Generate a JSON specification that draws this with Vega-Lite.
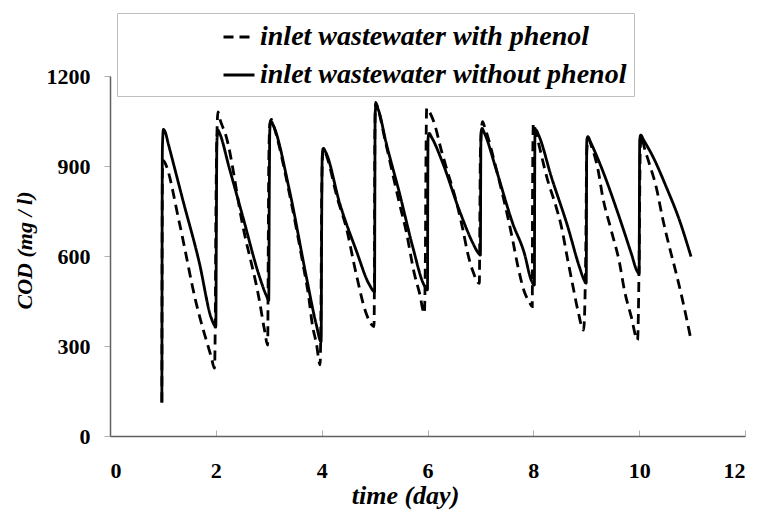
{
  "$schema": "https://vega.github.io/schema/vega-lite/v6.json",
  "width": 635,
  "height": 360,
  "autosize": {"type": "none"},
  "padding": {"left": 110, "top": 76, "right": 12, "bottom": 76},
  "background": "white",
  "config": {"view": {"stroke": null}, "font": "Times New Roman"},
  "data": {"values": [
    {"s":"B","t":0.98,"cod":112},{"s":"B","t":0.985,"cod":700},{"s":"B","t":0.99,"cod":960},{"s":"B","t":1.01,"cod":1022},{"s":"B","t":1.04,"cod":1015},{"s":"B","t":1.1,"cod":975},{"s":"B","t":1.376,"cod":787},{"s":"B","t":1.69,"cod":576},{"s":"B","t":1.91,"cod":395},{"s":"B","t":1.97,"cod":370},{"s":"B","t":2.0,"cod":364},
    {"s":"B","t":2.01,"cod":700},{"s":"B","t":2.02,"cod":980},{"s":"B","t":2.04,"cod":1020},{"s":"B","t":2.07,"cod":1010},{"s":"B","t":2.25,"cod":896},{"s":"B","t":2.51,"cod":731},{"s":"B","t":2.825,"cod":531},{"s":"B","t":2.95,"cod":470},{"s":"B","t":3.0,"cod":453},
    {"s":"B","t":3.01,"cod":800},{"s":"B","t":3.02,"cod":1020},{"s":"B","t":3.04,"cod":1050},{"s":"B","t":3.08,"cod":1038},{"s":"B","t":3.39,"cod":820},{"s":"B","t":3.71,"cod":531},{"s":"B","t":3.9,"cod":370},{"s":"B","t":3.99,"cod":314},
    {"s":"B","t":4.0,"cod":700},{"s":"B","t":4.01,"cod":930},{"s":"B","t":4.03,"cod":959},{"s":"B","t":4.08,"cod":945},{"s":"B","t":4.34,"cod":776},{"s":"B","t":4.65,"cod":620},{"s":"B","t":4.9,"cod":505},{"s":"B","t":5.0,"cod":481},
    {"s":"B","t":5.005,"cod":800},{"s":"B","t":5.01,"cod":1070},{"s":"B","t":5.03,"cod":1103},{"s":"B","t":5.07,"cod":1088},{"s":"B","t":5.22,"cod":976},{"s":"B","t":5.47,"cod":810},{"s":"B","t":5.72,"cod":631},{"s":"B","t":5.93,"cod":505},{"s":"B","t":6.0,"cod":487},
    {"s":"B","t":6.005,"cod":800},{"s":"B","t":6.01,"cod":990},{"s":"B","t":6.03,"cod":1009},{"s":"B","t":6.08,"cod":995},{"s":"B","t":6.29,"cod":909},{"s":"B","t":6.6,"cod":753},{"s":"B","t":6.86,"cod":642},{"s":"B","t":6.96,"cod":610},{"s":"B","t":7.0,"cod":603},
    {"s":"B","t":7.005,"cod":850},{"s":"B","t":7.01,"cod":1005},{"s":"B","t":7.03,"cod":1025},{"s":"B","t":7.08,"cod":1008},{"s":"B","t":7.3,"cod":887},{"s":"B","t":7.61,"cod":709},{"s":"B","t":7.83,"cod":609},{"s":"B","t":7.96,"cod":520},{"s":"B","t":8.02,"cod":503},
    {"s":"B","t":8.025,"cod":800},{"s":"B","t":8.03,"cod":1000},{"s":"B","t":8.05,"cod":1020},{"s":"B","t":8.1,"cod":1003},{"s":"B","t":8.34,"cod":864},{"s":"B","t":8.65,"cod":698},{"s":"B","t":8.87,"cod":564},{"s":"B","t":8.96,"cod":520},{"s":"B","t":9.0,"cod":509},
    {"s":"B","t":9.005,"cod":800},{"s":"B","t":9.01,"cod":985},{"s":"B","t":9.03,"cod":998},{"s":"B","t":9.08,"cod":980},{"s":"B","t":9.28,"cod":898},{"s":"B","t":9.6,"cod":742},{"s":"B","t":9.85,"cod":609},{"s":"B","t":9.96,"cod":550},{"s":"B","t":10.0,"cod":542},
    {"s":"B","t":10.005,"cod":800},{"s":"B","t":10.01,"cod":985},{"s":"B","t":10.03,"cod":1003},{"s":"B","t":10.08,"cod":988},{"s":"B","t":10.26,"cod":931},{"s":"B","t":10.51,"cod":831},{"s":"B","t":10.76,"cod":720},{"s":"B","t":10.98,"cod":598},
    {"s":"A","t":0.98,"cod":112},{"s":"A","t":0.985,"cod":600},{"s":"A","t":0.99,"cod":880},{"s":"A","t":1.01,"cod":918},{"s":"A","t":1.04,"cod":910},{"s":"A","t":1.313,"cod":709},{"s":"A","t":1.63,"cod":442},{"s":"A","t":1.912,"cod":264},{"s":"A","t":1.975,"cod":226},
    {"s":"A","t":1.99,"cod":400},{"s":"A","t":2.0,"cod":700},{"s":"A","t":2.02,"cod":1000},{"s":"A","t":2.04,"cod":1080},{"s":"A","t":2.07,"cod":1060},{"s":"A","t":2.196,"cod":998},{"s":"A","t":2.51,"cod":700},{"s":"A","t":2.825,"cod":450},{"s":"A","t":2.92,"cod":353},{"s":"A","t":2.98,"cod":303},
    {"s":"A","t":2.99,"cod":600},{"s":"A","t":3.0,"cod":900},{"s":"A","t":3.02,"cod":1040},{"s":"A","t":3.05,"cod":1055},{"s":"A","t":3.09,"cod":1035},{"s":"A","t":3.4,"cod":800},{"s":"A","t":3.65,"cod":570},{"s":"A","t":3.75,"cod":470},{"s":"A","t":3.83,"cod":364},{"s":"A","t":3.9,"cod":309},{"s":"A","t":3.97,"cod":237},
    {"s":"A","t":3.99,"cod":500},{"s":"A","t":4.0,"cod":800},{"s":"A","t":4.02,"cod":940},{"s":"A","t":4.04,"cod":955},{"s":"A","t":4.1,"cod":930},{"s":"A","t":4.3,"cod":790},{"s":"A","t":4.46,"cod":698},{"s":"A","t":4.65,"cod":542},{"s":"A","t":4.84,"cod":409},{"s":"A","t":4.95,"cod":370},{"s":"A","t":4.99,"cod":365},
    {"s":"A","t":5.0,"cod":700},{"s":"A","t":5.005,"cod":1000},{"s":"A","t":5.02,"cod":1112},{"s":"A","t":5.05,"cod":1100},{"s":"A","t":5.2,"cod":985},{"s":"A","t":5.47,"cod":775},{"s":"A","t":5.6,"cod":680},{"s":"A","t":5.75,"cod":542},{"s":"A","t":5.85,"cod":476},{"s":"A","t":5.94,"cod":409},
    {"s":"A","t":5.96,"cod":600},{"s":"A","t":5.97,"cod":900},{"s":"A","t":5.985,"cod":1092},{"s":"A","t":6.02,"cod":1085},{"s":"A","t":6.13,"cod":1042},{"s":"A","t":6.26,"cod":953},{"s":"A","t":6.35,"cod":898},{"s":"A","t":6.57,"cod":764},{"s":"A","t":6.67,"cod":687},{"s":"A","t":6.76,"cod":609},{"s":"A","t":6.86,"cod":548},{"s":"A","t":6.98,"cod":509},
    {"s":"A","t":6.99,"cod":750},{"s":"A","t":7.0,"cod":950},{"s":"A","t":7.04,"cod":1048},{"s":"A","t":7.08,"cod":1030},{"s":"A","t":7.3,"cod":890},{"s":"A","t":7.61,"cod":653},{"s":"A","t":7.71,"cod":564},{"s":"A","t":7.83,"cod":481},{"s":"A","t":7.93,"cod":445},{"s":"A","t":7.98,"cod":431},
    {"s":"A","t":7.985,"cod":800},{"s":"A","t":8.0,"cod":1042},{"s":"A","t":8.05,"cod":1010},{"s":"A","t":8.27,"cod":853},{"s":"A","t":8.43,"cod":764},{"s":"A","t":8.53,"cod":698},{"s":"A","t":8.65,"cod":587},{"s":"A","t":8.75,"cod":498},{"s":"A","t":8.84,"cod":420},{"s":"A","t":8.95,"cod":353},
    {"s":"A","t":8.99,"cod":600},{"s":"A","t":9.01,"cod":950},{"s":"A","t":9.04,"cod":990},{"s":"A","t":9.1,"cod":965},{"s":"A","t":9.22,"cod":890},{"s":"A","t":9.31,"cod":798},{"s":"A","t":9.47,"cod":687},{"s":"A","t":9.63,"cod":576},{"s":"A","t":9.72,"cod":487},{"s":"A","t":9.85,"cod":398},{"s":"A","t":9.97,"cod":320},
    {"s":"A","t":10.0,"cod":600},{"s":"A","t":10.02,"cod":950},{"s":"A","t":10.04,"cod":1000},{"s":"A","t":10.1,"cod":960},{"s":"A","t":10.19,"cod":909},{"s":"A","t":10.32,"cod":831},{"s":"A","t":10.45,"cod":720},{"s":"A","t":10.57,"cod":631},{"s":"A","t":10.7,"cod":542},{"s":"A","t":10.82,"cod":453},{"s":"A","t":10.98,"cod":320}
  ]},
  "mark": {"type": "line", "color": "black", "strokeWidth": 2.8, "interpolate": "monotone"},
  "encoding": {
    "x": {
      "field": "t", "type": "quantitative",
      "scale": {"domain": [0, 12], "nice": false},
      "axis": {
        "title": "time (day)", "values": [0,2,4,6,8,10,12], "grid": false, "format": "d",
        "domainColor": "#606060", "domainWidth": 1.5,
        "tickColor": "#b0b0b0", "tickSize": -6, "tickWidth": 1,
        "labelFont": "Times New Roman", "labelFontWeight": "bold", "labelFontSize": 22, "labelColor": "black",
        "labelPadding": 30,
        "titleFont": "Times New Roman", "titleFontWeight": "bold", "titleFontStyle": "italic", "titleFontSize": 26, "titleColor": "black",
        "titleX": 295, "titleY": 67, "titleBaseline": "alphabetic"
      }
    },
    "y": {
      "field": "cod", "type": "quantitative",
      "scale": {"domain": [0, 1200], "nice": false},
      "axis": {
        "title": "COD (mg / l)", "values": [0,300,600,900,1200], "grid": false, "format": "d",
        "domainColor": "#606060", "domainWidth": 1.5,
        "tickColor": "#b0b0b0", "tickSize": 6, "tickWidth": 1,
        "labelFont": "Times New Roman", "labelFontWeight": "bold", "labelFontSize": 22, "labelColor": "black",
        "labelPadding": 14,
        "titleFont": "Times New Roman", "titleFontWeight": "bold", "titleFontStyle": "italic", "titleFontSize": 22, "titleColor": "black",
        "titleX": -86, "titleY": 174, "titleBaseline": "middle"
      }
    },
    "strokeDash": {
      "field": "s", "type": "nominal",
      "scale": {"domain": ["A", "B"], "range": [[10, 6], [1, 0]]},
      "legend": {
        "orient": "none", "legendX": 7, "legendY": -63, "title": null,
        "padding": 7, "rowPadding": 7,
        "symbolType": "stroke", "symbolSize": 961, "symbolStrokeWidth": 3, "symbolStrokeColor": "black", "symbolOffset": 98,
        "labelOffset": 4, "labelFont": "Times New Roman", "labelFontSize": 28, "labelFontStyle": "italic", "labelFontWeight": "bold",
        "labelColor": "black", "labelLimit": 2000,
        "labelExpr": "(datum.label == 'A' ? 'inlet wastewater with phenol' : 'inlet wastewater without phenol') + '                '",
        "fillColor": "white", "strokeColor": "#c0c0c0"
      }
    }
  }
}
